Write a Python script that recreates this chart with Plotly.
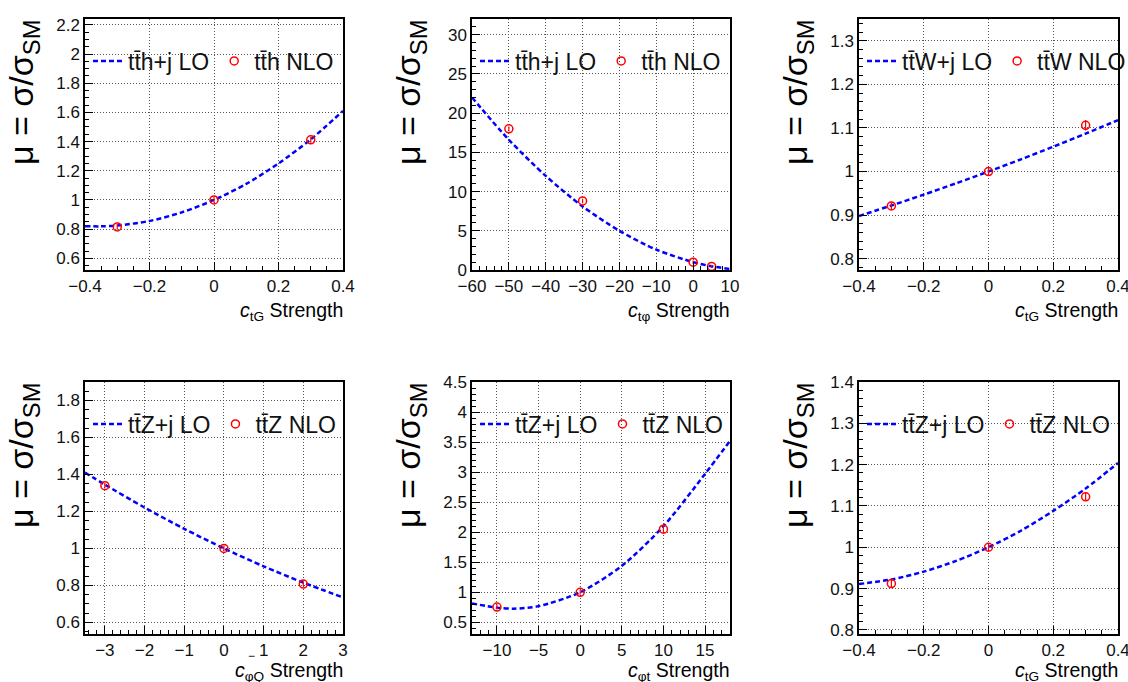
import plotly.graph_objects as go

W, H = 1128, 682
FONT = "Liberation Sans, Arial, Helvetica, sans-serif"

# ---- ttH, c_tG scan ----
TTH_CTG_X = [-0.4, -0.35, -0.3, -0.2, -0.1, 0.0, 0.1, 0.2, 0.3, 0.4]
TTH_CTG_LO = [0.820, 0.819, 0.825, 0.856, 0.915, 1.0, 1.11, 1.25, 1.415, 1.61]
TTH_CTG_NLO_X = [-0.3, 0.0, 0.3]
TTH_CTG_NLO = [0.815, 1.0, 1.412]
TTH_CTG_NLO_ERR = [0.02, 0.02, 0.02]

# ---- ttH, c_tphi scan ----
TTH_CTP_X = [-60, -50, -40, -30, -20, -10, 0, 5, 10]
TTH_CTP_LO = [22.0, 16.6, 12.0, 8.1, 5.0, 2.6, 1.0, 0.47, 0.13]
TTH_CTP_NLO_X = [-50, -30, 0, 5]
TTH_CTP_NLO = [18.0, 8.8, 1.0, 0.45]
TTH_CTP_NLO_ERR = [0.3, 0.3, 0.2, 0.2]

# ---- ttW, c_tG scan ----
TTW_CTG_X = [-0.4, -0.3, -0.2, -0.1, 0.0, 0.1, 0.2, 0.3, 0.4]
TTW_CTG_LO = [0.898, 0.922, 0.947, 0.973, 1.0, 1.028, 1.057, 1.087, 1.118]
TTW_CTG_NLO_X = [-0.3, 0.0, 0.3]
TTW_CTG_NLO = [0.921, 1.0, 1.106]
TTW_CTG_NLO_ERR = [0.008, 0.008, 0.012]

# ---- ttZ, c_phiQ^- scan ----
TTZ_CPQ_X = [-3.5, -3, -2, -1, 0, 1, 2, 3]
TTZ_CPQ_LO = [1.41, 1.345, 1.221, 1.106, 1.0, 0.903, 0.815, 0.735]
TTZ_CPQ_NLO_X = [-3, 0, 2]
TTZ_CPQ_NLO = [1.339, 1.0, 0.807]
TTZ_CPQ_NLO_ERR = [0.015, 0.015, 0.012]

# ---- ttZ, c_phit scan ----
TTZ_CPT_X = [-13, -10, -8, -5, 0, 5, 10, 15, 18]
TTZ_CPT_LO = [0.815, 0.745, 0.728, 0.77, 1.0, 1.44, 2.1, 2.97, 3.52]
TTZ_CPT_NLO_X = [-10, 0, 10]
TTZ_CPT_NLO = [0.755, 1.0, 2.05]
TTZ_CPT_NLO_ERR = [0.04, 0.04, 0.05]

# ---- ttZ, c_tG scan ----
TTZ_CTG_X = [-0.4, -0.3, -0.2, -0.1, 0.0, 0.1, 0.2, 0.3, 0.4]
TTZ_CTG_LO = [0.911, 0.922, 0.941, 0.967, 1.0, 1.04, 1.088, 1.142, 1.204]
TTZ_CTG_NLO_X = [-0.3, 0.0, 0.3]
TTZ_CTG_NLO = [0.912, 1.0, 1.122]
TTZ_CTG_NLO_ERR = [0.01, 0.01, 0.01]

TB = "t\u0304"  # t with bar
LO_LABELS = [f"t{TB}h+j LO", f"t{TB}h+j LO", f"t{TB}W+j LO",
             f"t{TB}Z+j LO", f"t{TB}Z+j LO", f"t{TB}Z+j LO"]
NLO_LABELS = [f"t{TB}h NLO", f"t{TB}h NLO", f"t{TB}W NLO",
              f"t{TB}Z NLO", f"t{TB}Z NLO", f"t{TB}Z NLO"]
X_TITLES = ["<i>c</i><sub>tG</sub> Strength", "<i>c</i><sub>tφ</sub> Strength",
            "<i>c</i><sub>tG</sub> Strength", "<i>c</i><sub>φQ</sub> Strength",
            "<i>c</i><sub>φt</sub> Strength", "<i>c</i><sub>tG</sub> Strength"]

panels = [
    (TTH_CTG_X, TTH_CTG_LO, TTH_CTG_NLO_X, TTH_CTG_NLO, TTH_CTG_NLO_ERR),
    (TTH_CTP_X, TTH_CTP_LO, TTH_CTP_NLO_X, TTH_CTP_NLO, TTH_CTP_NLO_ERR),
    (TTW_CTG_X, TTW_CTG_LO, TTW_CTG_NLO_X, TTW_CTG_NLO, TTW_CTG_NLO_ERR),
    (TTZ_CPQ_X, TTZ_CPQ_LO, TTZ_CPQ_NLO_X, TTZ_CPQ_NLO, TTZ_CPQ_NLO_ERR),
    (TTZ_CPT_X, TTZ_CPT_LO, TTZ_CPT_NLO_X, TTZ_CPT_NLO, TTZ_CPT_NLO_ERR),
    (TTZ_CTG_X, TTZ_CTG_LO, TTZ_CTG_NLO_X, TTZ_CTG_NLO, TTZ_CTG_NLO_ERR),
]

# axis setup: (x range, x major, x minor, y range, y major, y minor)
axes_cfg = [
    ([-0.4, 0.4], 0.2, 0.05, [0.52, 2.24], 0.2, 0.05),
    ([-60, 10], 10, 2, [0, 32], 5, 1),
    ([-0.4, 0.4], 0.2, 0.05, [0.774, 1.35], 0.1, 0.02),
    ([-3.5, 3], 1, 0.2, [0.537, 1.9], 0.2, 0.05),
    ([-13, 18], 5, 1, [0.306, 4.5], 0.5, 0.1),
    ([-0.4, 0.4], 0.2, 0.05, [0.79, 1.4], 0.1, 0.02),
]

# frame boxes in pixels: (left, right, top, bottom)
frames = [
    (85, 343, 19, 270), (472, 730, 19, 270), (859, 1118, 19, 270),
    (85, 343, 382, 634), (472, 730, 382, 634), (859, 1118, 382, 634),
]

fig = go.Figure()
layout = dict(
    width=W, height=H, margin=dict(l=0, r=0, t=0, b=0, autoexpand=False),
    paper_bgcolor="white", plot_bgcolor="white",
    font=dict(family=FONT, color="black"),
    showlegend=True,
)
shapes, annotations = [], []

for i, ((cx, cy, nx, ny, ne), (xr, xdt, xmin, yr, ydt, ymin), (l, r, t, b)) in enumerate(
        zip(panels, axes_cfg, frames)):
    k = i + 1
    xa = "x" if k == 1 else f"x{k}"
    ya = "y" if k == 1 else f"y{k}"
    lg = "legend" if k == 1 else f"legend{k}"

    fig.add_trace(go.Scatter(
        x=cx, y=cy, mode="lines", name=LO_LABELS[i], legend=lg,
        line=dict(color="#0000ff", width=2.5, dash="5px,3px", shape="spline", smoothing=0.8),
        xaxis=xa, yaxis=ya))
    fig.add_trace(go.Scatter(
        x=nx, y=ny, mode="markers", name=NLO_LABELS[i], legend=lg,
        marker=dict(symbol="circle-open", size=8, color="#ff0000", line=dict(width=1.5, color="#ff0000")),
        error_y=dict(type="data", array=ne, visible=True, color="#ff0000", thickness=1.2, width=0),
        xaxis=xa, yaxis=ya))

    axis_common = dict(
        showline=True, mirror=True, linecolor="black", linewidth=1.5,
        ticks="inside", ticklen=8, tickwidth=1, tickcolor="black",
        showgrid=True, gridcolor="#555", griddash="1px,2px", gridwidth=1,
        zeroline=False, automargin=False, ticklabeloverflow="allow",
        tickfont=dict(size=17, family=FONT, color="#111"),
    )
    layout["xaxis" if k == 1 else f"xaxis{k}"] = dict(
        axis_common, domain=[l / W, r / W], range=xr, dtick=xdt, tick0=0,
        anchor=ya, minor=dict(ticks="inside", ticklen=4, dtick=xmin, tick0=0,
                              tickcolor="black", showgrid=False))
    layout["yaxis" if k == 1 else f"yaxis{k}"] = dict(
        axis_common, domain=[1 - b / H, 1 - t / H], range=yr, dtick=ydt, tick0=0,
        anchor=xa, minor=dict(ticks="inside", ticklen=4, dtick=ymin, tick0=0,
                              tickcolor="black", showgrid=False))

    layout[lg] = dict(
        x=(l + 3) / W, y=1 - (t + 42) / H, xanchor="left", yanchor="middle",
        orientation="h", bgcolor="rgba(0,0,0,0)", borderwidth=0,
        font=dict(size=23, family=FONT, color="#111"),
        itemwidth=30,
    )

    # white panel behind the legend entries
    shapes.append(dict(
        type="rect", xref="paper", yref="paper", layer="between",
        x0=(l + 1) / W, x1=(l + 244) / W, y0=1 - (t + 71) / H, y1=1 - (t + 11) / H,
        fillcolor="white", line=dict(width=0)))

    # y-axis title, aligned with the top of the axis
    annotations.append(dict(
        text="μ = σ/σ<sub>SM</sub>", textangle=-90, xref="paper", yref="paper",
        x=(l - 85) / W, y=1 - (t - 1) / H, xanchor="left", yanchor="top",
        showarrow=False, font=dict(size=34, family=FONT, color="black")))
    # x-axis title, aligned with the right end of the axis
    annotations.append(dict(
        text=X_TITLES[i], xref="paper", yref="paper",
        x=(r + 2) / W, y=1 - (b + (27 if i < 3 else 23)) / H,
        xanchor="right", yanchor="top",
        showarrow=False, font=dict(size=19.5, family=FONT, color="black")))

# the "−" superscript sitting above the φQ subscript of the fourth panel
l4, r4, t4, b4 = frames[3]
annotations.append(dict(
    text="−", xref="paper", yref="paper",
    x=(l4 + 166) / W, y=1 - (b4 + 22) / H, xanchor="center", yanchor="middle",
    showarrow=False, font=dict(size=12, family=FONT, color="black")))

layout["shapes"] = shapes
layout["annotations"] = annotations
fig.update_layout(**layout)
fig.write_html("out.html")
